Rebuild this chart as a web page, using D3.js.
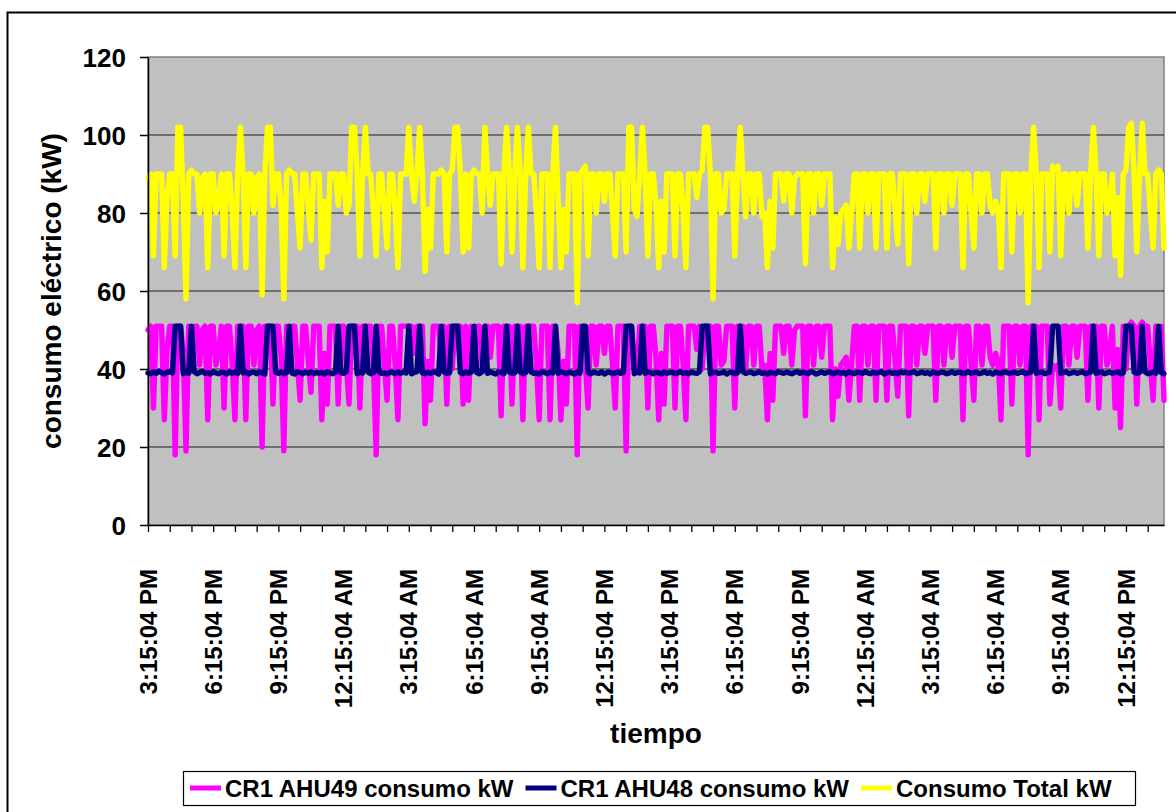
<!DOCTYPE html>
<html><head><meta charset="utf-8">
<script src="https://cdn.jsdelivr.net/npm/d3@7"></script>
<style>
body{margin:0;background:#fff}
svg{display:block}
text{font-family:"Liberation Sans",Arial,sans-serif;font-weight:bold;fill:#000}
</style>
</head><body>
<svg id="c" width="1176" height="812"></svg>
<script>
// ---- data ----
const timeLabels = ["3:15:04 PM","6:15:04 PM","9:15:04 PM","12:15:04 AM","3:15:04 AM","6:15:04 AM","9:15:04 AM","12:15:04 PM",
                    "3:15:04 PM","6:15:04 PM","9:15:04 PM","12:15:04 AM","3:15:04 AM","6:15:04 AM","9:15:04 AM","12:15:04 PM"];
const labelEvery = 24;   // samples between time labels
const tickEvery = 8;     // samples between tick marks
const yTicks = [0,20,40,60,80,100,120];
const seriesNames = ["CR1 AHU49 consumo kW","CR1 AHU48 consumo kW","Consumo Total kW"];
const seriesColors = ["#ff00ff","#000080","#ffff00"];

const ahu49 = [
50,51,30,51,51,51,27,45,51,51,18,51,51,44,19,51,40,51,51,41,
50,51,27,51,51,41,44,51,30,51,51,41,27,51,51,51,27,51,51,41,
50,51,20,51,51,51,31,51,51,43,19,51,40,51,51,41,32,51,51,42,
34,51,51,51,27,44,31,51,51,51,31,51,51,41,31,51,51,51,30,51,
51,51,51,41,18,51,51,41,32,51,51,41,27,51,51,51,51,51,44,51,
51,51,26,42,32,51,51,51,40,51,31,51,40,51,51,51,31,51,32,51,
40,51,51,41,51,51,43,51,51,51,28,51,51,51,31,51,51,51,27,51,
51,51,51,41,27,51,51,51,27,51,51,44,27,42,31,51,51,51,18,51,
40,41,30,51,51,41,51,51,44,51,51,41,30,51,51,51,19,51,51,42,
40,51,51,51,30,51,51,43,27,44,31,51,51,51,30,51,51,41,27,51,
51,51,45,51,40,51,51,51,19,51,51,41,42,51,51,51,30,51,51,51,
40,51,51,41,51,51,40,41,27,44,32,51,51,51,44,51,51,41,50,51,
51,51,28,51,51,41,51,51,43,51,51,51,27,40,33,41,42,43,32,41,
51,51,32,51,51,41,51,51,32,51,51,51,32,51,51,42,33,51,51,51,
28,51,51,41,51,51,44,51,51,51,32,51,51,41,51,51,43,51,51,51,
27,51,51,41,32,51,51,41,51,51,43,41,44,42,27,51,51,51,31,51,
51,41,51,51,18,51,51,51,27,51,51,51,31,41,40,41,30,51,51,41,
51,51,43,51,51,51,32,51,51,51,30,51,51,41,44,51,30,45,25,51,
40,51,52,51,31,51,52,51,51,41,32,51,40,51,32
];
const ahu48 = [
39,38.8,39.3,38.9,39.4,39.1,38.7,39.2,39.3,39.0,51,51,51,38.8,39.2,38.9,51,39.3,38.8,39.1,
39.4,38.9,39.1,38.7,39.3,39.0,38.8,39.2,39.1,38.7,39.3,38.9,39.2,38.8,51,39.0,39.3,38.7,39.1,39.2,
38.8,39.3,39.0,38.7,51,51,51,39.2,38.9,39.3,38.8,39.1,51,39.0,38.7,39.3,39.1,38.8,39.2,38.9,
39.3,38.8,39.1,38.9,39.2,38.7,39.3,39.0,38.8,39.2,51,39.1,38.9,39.3,51,51,51,38.8,39.2,39.0,
51,39.2,38.8,39.1,51,39.3,38.9,39.0,38.7,39.2,39.1,38.8,39.3,38.9,39.2,39.0,51,38.8,39.1,39.3,
51,39.0,38.8,39.2,38.9,39.3,39.1,38.7,51,39.2,38.9,39.0,51,51,51,39.1,38.8,39.3,38.9,39.2,
51,39.1,38.8,39.3,51,38.9,39.2,39.0,38.7,39.3,39.1,38.8,51,39.2,38.9,39.0,51,39.3,38.8,39.1,
51,39.2,38.9,39.0,38.7,39.3,39.1,38.8,39.2,39.0,51,38.9,39.3,39.1,38.8,39.2,39.0,38.7,39.3,38.9,
51,51,39.1,38.8,39.2,39.0,38.9,39.3,38.7,39.1,39.2,38.8,39.0,39.3,38.9,39.1,51,51,51,38.8,
39.2,39.0,51,38.9,39.3,39.1,38.8,39.2,39.0,38.7,39.3,38.9,39.1,39.2,38.8,39.0,39.3,38.9,39.1,38.8,
39.2,39.0,38.9,39.3,51,51,51,38.8,39.1,39.2,38.9,39.0,39.3,38.7,39.1,39.2,38.8,39.0,51,39.3,
38.9,39.1,39.2,38.8,39.0,39.3,38.9,39.1,38.7,39.2,39.0,38.8,39.3,39.1,38.9,39.2,39.0,38.8,39.1,39.3,
38.9,39.2,39.0,38.8,39.3,39.1,38.7,39.0,39.2,38.9,39.1,39.3,38.8,39.0,39.2,38.9,39.1,38.7,39.3,39.0,
38.8,39.2,39.1,38.9,39.3,39.0,38.8,39.2,38.9,39.1,39.3,38.7,39.0,39.2,38.9,39.1,38.8,39.3,39.0,39.2,
38.9,39.1,39.3,38.8,39.0,39.2,38.9,39.1,38.7,39.3,39.0,38.9,39.2,39.1,38.8,39.0,39.3,38.9,39.1,39.2,
38.8,39.0,39.3,38.9,39.1,39.2,38.8,39.0,39.3,38.9,39.1,38.7,39.2,39.0,38.8,39.3,39.1,38.9,39.0,39.2,
38.9,39.1,39.3,38.8,39.0,39.2,51,38.9,39.1,39.3,38.8,39.0,39.2,51,51,51,38.9,39.1,39.3,38.8,
39.0,39.2,38.9,39.1,39.3,38.8,39.0,39.2,51,38.9,39.1,39.3,38.8,39.0,39.2,38.9,39.1,39.3,38.8,39.0,
51,51,51,39.2,38.9,39.1,51,39.3,38.8,39.0,39.2,38.9,51,39.1,38.8
];
const total = [
89,90,69,90,90,90,66,84,90,90,69,102,102,83,58,90,91,90,90,80,
89,90,66,90,90,80,83,90,69,90,90,80,66,90,102,90,66,90,90,80,
89,90,59,90,102,102,82,90,90,82,58,90,91,90,90,80,71,90,90,81,
73,90,90,90,66,83,70,90,90,90,82,90,90,80,82,102,102,90,69,90,
102,90,90,80,69,90,90,80,71,90,90,80,66,90,90,90,102,90,83,90,
102,90,65,81,71,90,90,90,91,90,70,90,91,102,102,90,70,90,71,90,
91,90,90,80,102,90,82,90,90,90,67,90,102,90,70,90,102,90,66,90,
102,90,90,80,66,90,90,90,66,90,102,83,66,81,70,90,90,90,57,90,
91,92,69,90,90,80,90,90,83,90,90,80,69,90,90,90,70,102,102,81,
79,90,102,90,69,90,90,82,66,83,70,90,90,90,69,90,90,80,66,90,
90,90,84,90,91,102,102,90,58,90,90,80,81,90,90,90,69,90,102,90,
79,90,90,80,90,90,79,80,66,83,71,90,90,90,83,90,90,80,89,90,
90,90,67,90,90,80,90,90,82,90,90,90,66,79,72,80,81,82,71,80,
90,90,71,90,90,80,90,90,71,90,90,90,71,90,90,81,72,90,90,90,
67,90,90,80,90,90,83,90,90,90,71,90,90,80,90,90,82,90,90,90,
66,90,90,80,71,90,90,80,90,90,82,80,83,81,66,90,90,90,70,90,
90,80,90,90,57,90,102,90,66,90,90,90,70,92,91,92,69,90,90,80,
90,90,82,90,90,90,71,90,102,90,69,90,90,80,83,90,69,84,64,90,
91,102,103,90,70,90,103,90,90,80,71,90,91,90,71
];

// ---- drawing ----
const svg = d3.select("#c");
const P = {l:148, r:1164, t:57, b:525};
const N = ahu49.length;
const x = d3.scaleLinear().domain([0, N - 1]).range([P.l, P.r]);
const y = d3.scaleLinear().domain([0, 120]).range([P.b, P.t]);

// chart frame
svg.append("rect").attr("x",7.5).attr("y",12.5).attr("width",1200).attr("height",900)
  .attr("fill","#fff").attr("stroke","#000").attr("stroke-width",2);

// plot area
svg.append("rect").attr("x",P.l).attr("y",P.t).attr("width",P.r-P.l).attr("height",P.b-P.t)
  .attr("fill","#c0c0c0").attr("stroke","#808080").attr("stroke-width",1.5);

// gridlines
svg.append("g").selectAll("line").data(yTicks.filter(v => v > 0 && v < 120)).join("line")
  .attr("x1",P.l).attr("x2",P.r).attr("y1",d=>y(d)).attr("y2",d=>y(d))
  .attr("stroke","#1e1e1e").attr("stroke-width",1.2);

// series lines
const line = d3.line().x((d,i)=>x(i)).y(d=>y(d));
[ahu49, ahu48, total].forEach((s,k)=>{
  svg.append("path").datum(s).attr("d",line).attr("fill","none")
    .attr("stroke",seriesColors[k]).attr("stroke-width",5.4)
    .attr("stroke-linejoin","round").attr("stroke-linecap","round");
});

// y axis
const yAxis = svg.append("g").attr("transform",`translate(${P.l},0)`)
  .call(d3.axisLeft(y).tickValues(yTicks).tickSize(8).tickSizeOuter(0).tickPadding(14).tickFormat(d3.format("d")));
yAxis.select(".domain").attr("stroke","#000").attr("stroke-width",1.5);
yAxis.selectAll(".tick line").attr("stroke","#000").attr("stroke-width",1.5);
yAxis.selectAll("text").attr("font-size",26).attr("font-family",null).attr("fill","#000").attr("dy","0.36em");

// x axis tick marks
const xAxis = svg.append("g").attr("transform",`translate(0,${P.b})`)
  .call(d3.axisBottom(x).tickValues(d3.range(0, N, tickEvery)).tickSize(7).tickSizeOuter(0).tickFormat(""));
xAxis.select(".domain").attr("stroke","#000").attr("stroke-width",1.5);
xAxis.selectAll(".tick line").attr("stroke","#000").attr("stroke-width",1.3);

// x labels (rotated)
svg.append("g").selectAll("text").data(timeLabels).join("text")
  .attr("transform",(d,i)=>`translate(${x(i*labelEvery)},569) rotate(-90)`)
  .attr("text-anchor","end").attr("dy","0.36em").attr("font-size",24).text(d=>d);

// axis titles
svg.append("text").attr("transform",`translate(61,${(P.t+P.b)/2}) rotate(-90)`)
  .attr("text-anchor","middle").attr("font-size",28).text("consumo eléctrico (kW)");
svg.append("text").attr("x",(P.l+P.r)/2).attr("y",743)
  .attr("text-anchor","middle").attr("font-size",28).text("tiempo");

// legend
const lg = svg.append("g");
lg.append("rect").attr("x",183.5).attr("y",771.5).attr("width",952).attr("height",34)
  .attr("fill","#fff").attr("stroke","#000").attr("stroke-width",1.2);
let cx = 190;
seriesNames.forEach((nm,k)=>{
  lg.append("line").attr("x1",cx).attr("x2",cx+31).attr("y1",788).attr("y2",788)
    .attr("stroke",seriesColors[k]).attr("stroke-width",5);
  const t = lg.append("text").attr("x",cx+35).attr("y",797).attr("font-size",24).text(nm);
  cx = cx + 35 + t.node().getComputedTextLength() + 12;
});
</script>
</body></html>
